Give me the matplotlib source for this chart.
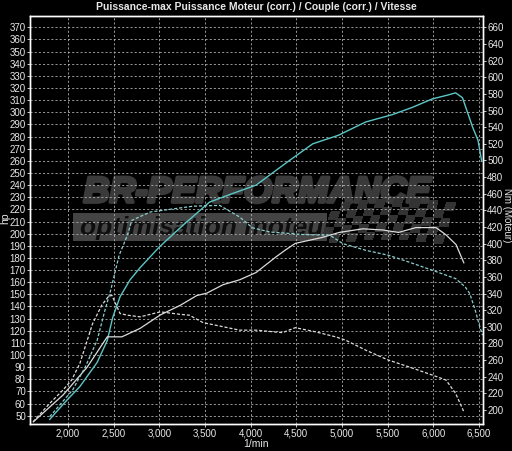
import matplotlib
matplotlib.use('Agg')
import matplotlib.pyplot as plt
import matplotlib.patheffects as pe
import numpy as np

plt.rcParams['font.family'] = ['Liberation Sans Narrow', 'Liberation Sans', 'DejaVu Sans']

TITLE = 'Puissance-max Puissance Moteur (corr.) / Couple (corr.) / Vitesse'

# tuned power (hp, left axis)
tuned_pw_rpm = [1800, 1990, 2130, 2320, 2430, 2490, 2570, 2680, 2790, 3000, 3260, 3550,
                3800, 4060, 4420, 4680, 4960, 5260, 5550, 5770, 5990, 6150, 6245, 6320,
                6430, 6490, 6530]
tuned_pw_hp = [47, 63, 74, 94, 112, 131, 148, 162, 172, 189, 207, 226,
               233, 240, 260, 274, 281, 292, 298, 304, 311, 314, 316, 312,
               288, 277, 260]

# stock power (hp, left axis)
stock_pw_rpm = [1620, 1945, 2210, 2430, 2590, 2790, 3010, 3230, 3410, 3520, 3700, 3880,
                4060, 4280, 4390, 4490, 4790, 4970, 5230, 5450, 5620, 5810, 6030, 6140,
                6250, 6335]
stock_pw_hp = [45, 67, 90, 115, 115, 122, 133, 141, 149, 151, 158, 162,
               168, 181, 187, 192, 197, 201, 204, 203, 201, 205, 205, 199,
               191, 176]

# tuned torque (Nm, right axis)
tuned_tq_rpm = [1800, 2050, 2190, 2320, 2400, 2470, 2560, 2650, 2700, 2900, 3370, 3660,
                3880, 4020, 4210, 4570, 4870, 5010, 5260, 5510, 5730, 5990, 6245, 6350,
                6400, 6460, 6510, 6540]
tuned_tq_nm = [192, 224, 252, 284, 318, 345, 386, 410, 428, 438, 445, 446,
               432, 419, 414, 411, 410, 400, 392, 386, 378, 368, 358, 348,
               340, 320, 300, 290]

# stock torque (Nm, right axis)
stock_tq_rpm = [1620, 1800, 1945, 2040, 2130, 2270, 2370, 2440, 2480, 2570, 2650, 2790,
                3010, 3230, 3330, 3480, 3660, 3880, 4060, 4350, 4490, 4710, 4930, 5040,
                5260, 5510, 5730, 5990, 6140, 6245, 6335]
stock_tq_nm = [186, 208, 224, 236, 256, 304, 326, 336, 338, 316, 314, 312,
               318, 315, 314, 305, 301, 296, 296, 293, 299, 294, 288, 284,
               272, 260, 252, 242, 236, 220, 198]

x_ticks = [2000, 2500, 3000, 3500, 4000, 4500, 5000, 5500, 6000, 6500]
hp_ticks = list(range(50, 371, 10))
nm_ticks = list(range(200, 661, 20))

CYAN = '#5cc6c6'
CYAN_D = '#8ccfcf'
WHITE = '#dcdcdc'
FG = '#e8e8e8'
WM = '#3a3a3a'

fig = plt.figure(figsize=(5.12, 4.51), dpi=100, facecolor='black')
ax = fig.add_axes([30 / 512, 27 / 451, 453 / 512, 408 / 451])
ax.set_facecolor('black')
ax2 = ax.twinx()

ax.set_xlim(1584, 6545)
ax.set_ylim(43.2, 379.3)
ax2.set_ylim(183.2, 673.6)

# watermark
ax.text(0.118, 0.567, 'BR-PERFORMANCE', transform=ax.transAxes, fontsize=26,
        fontweight='bold', style='italic', color=WM, va='center', ha='left',
        family=['Liberation Sans', 'DejaVu Sans'], zorder=0,
        path_effects=[pe.withStroke(linewidth=2.5, foreground=WM)])
ax.add_patch(plt.Rectangle((0.095, 0.449), 0.56, 0.068, transform=ax.transAxes,
                           facecolor='#444444', edgecolor='none', zorder=0))
ax.text(0.11, 0.481, 'optimisation moteur', transform=ax.transAxes, fontsize=19,
        fontweight='bold', style='italic', color='#0e0e0e', va='center', ha='left',
        family=['Liberation Sans', 'DejaVu Sans'], zorder=0)
# checkered flag
nx, ny = 14, 5
gx, gy = np.meshgrid(np.linspace(0, 1, nx + 1), np.linspace(0, 1, ny + 1))
fx = 0.64 + gx * 0.27 + gy * 0.03
fy = 0.44 + gy * 0.10 + np.sin(gx * 3.0) * 0.012
checks = (np.add.outer(np.arange(ny), np.arange(nx)) % 2).astype(float)
ax.pcolormesh(fx, fy, np.ma.masked_equal(checks, 0), transform=ax.transAxes,
              cmap=matplotlib.colors.ListedColormap(['#333333']), zorder=0)

ax.set_xticks(x_ticks)
ax.set_xticklabels([f'{v:,}' for v in x_ticks])
ax.set_yticks(hp_ticks)
ax2.set_yticks(nm_ticks)
ax.grid(True, color='#b0b0b0', linestyle=(0, (2.5, 2.5)), linewidth=0.6)
ax.set_axisbelow(False)

for a in (ax, ax2):
    for s in a.spines.values():
        s.set_color('white')
        s.set_linewidth(1.0)
    a.tick_params(colors=FG, labelsize=7, length=2, width=0.6, pad=1)

ax.plot(tuned_pw_rpm, tuned_pw_hp, color=CYAN, lw=1.0, zorder=3)
ax.plot(stock_pw_rpm, stock_pw_hp, color=WHITE, lw=0.9, zorder=3)
ax2.plot(tuned_tq_rpm, tuned_tq_nm, color=CYAN_D, lw=0.9, linestyle=(0, (2.5, 1.5)))
ax2.plot(stock_tq_rpm, stock_tq_nm, color=WHITE, lw=0.9, linestyle=(0, (2.5, 1.5)))

fig.text(0.5, 1 - 7 / 451, TITLE, color=FG, fontsize=7.5, fontweight='bold',
         ha='center', va='center', family=['Liberation Sans', 'DejaVu Sans'])
fig.text(5 / 512, 1 - 218 / 451, 'hp', color=FG, fontsize=7.5, rotation=90,
         ha='center', va='center')
fig.text(507 / 512, 1 - 215 / 451, 'Nm (Moteur)', color=FG, fontsize=7,
         rotation=270, ha='center', va='center')
fig.text(256 / 512, 1 - 444 / 451, '1/min', color=FG, fontsize=7.5,
         ha='center', va='center')

fig.savefig('out.png', dpi=100, facecolor='black')
